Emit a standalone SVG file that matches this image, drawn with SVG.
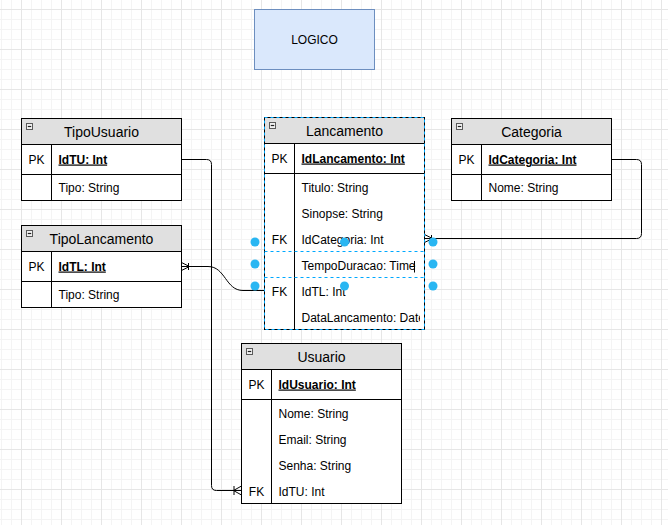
<svg xmlns="http://www.w3.org/2000/svg" width="668" height="525" viewBox="0 0 668 525">
<style>
text{font-family:"Liberation Sans",Arial,Helvetica,sans-serif;fill:#000}
.hd{fill:#e0e0e0;stroke:#000;stroke-width:1}
.bd{fill:#fff;stroke:#000;stroke-width:1}
.ln{stroke:#000;stroke-width:1;fill:none}
.ht{font-size:14px;text-anchor:middle}
.k{font-size:12px;text-anchor:middle}
.f{font-size:12px}
.pk{font-size:12px;font-weight:bold;text-decoration:underline}
.ic{fill:#f0f0f0;stroke:#5a5a5a;stroke-width:1}
.im{stroke:#222;stroke-width:1.2}
.cn{stroke:#000;stroke-width:1;fill:none}
.sel{stroke:#00a8ff;stroke-width:1;fill:none;stroke-dasharray:3 3}
.dot{fill:#29b6f2}
</style>
<defs>
<pattern id="grid" x="21" y="9" width="40" height="40" patternUnits="userSpaceOnUse">
<rect width="40" height="40" fill="#fff"/>
<rect x="10" y="0" width="1" height="40" fill="#f4f4f4"/>
<rect x="20" y="0" width="1" height="40" fill="#f4f4f4"/>
<rect x="30" y="0" width="1" height="40" fill="#f4f4f4"/>
<rect x="0" y="10" width="40" height="1" fill="#f4f4f4"/>
<rect x="0" y="20" width="40" height="1" fill="#f4f4f4"/>
<rect x="0" y="30" width="40" height="1" fill="#f4f4f4"/>
<rect x="0" y="0" width="1" height="40" fill="#e6e6e6"/>
<rect x="0" y="0" width="40" height="1" fill="#e6e6e6"/>
</pattern>
<clipPath id="clipL"><rect x="295" y="118" width="125" height="212"/></clipPath>
</defs>
<rect width="668" height="525" fill="url(#grid)"/>

<g id="logico">
<rect x="254.5" y="9.5" width="120" height="60" fill="#dae8fc" stroke="#6c8ebf"/>
<text x="314.5" y="43.5" class="k">LOGICO</text>
</g>

<g id="connectors">
<path class="cn" d="M181.5 159.5 H206.5 Q211.5 159.5 211.5 164.5 V485.5 Q211.5 490.5 216.5 490.5 H241.5"/>
<path class="cn" d="M233.5 490.5 L241.5 486 M233.5 490.5 L241.5 495 M234 486 V495"/>
<path class="cn" d="M264.5 290.5 H243 C225.5 290.5 225.5 266.5 208 266.5 H181.5"/>
<path class="cn" d="M189.5 266.5 L181.5 262.5 M189.5 266.5 L181.5 270.5 M188.5 263 V270"/>
<path class="cn" d="M611.5 159.5 H636.5 Q641.5 159.5 641.5 164.5 V233.5 Q641.5 238.5 636.5 238.5 H424.5"/>
<path class="cn" d="M432.5 238.5 L424.5 234.5 M432.5 238.5 L424.5 242.5 M431.5 235 V242"/>
</g>

<g id="tipousuario">
<rect class="hd" x="21.5" y="118.5" width="160" height="26"/>
<rect class="bd" x="21.5" y="144.5" width="160" height="56"/>
<path class="ln" d="M21.5 174.5 H181.5 M51.5 144.5 V200.5"/>
<rect class="ic" x="26.5" y="123.5" width="6" height="6"/><path class="im" d="M27.8 126.5 H31.2"/>
<text class="ht" x="101.5" y="136.5">TipoUsuario</text>
<text class="k" x="36.5" y="163.5">PK</text>
<text class="pk" x="58.5" y="163.5">IdTU: Int</text>
<text class="f" x="58.5" y="192">Tipo: String</text>
</g>

<g id="tipolancamento">
<rect class="hd" x="21.5" y="225.5" width="160" height="26"/>
<rect class="bd" x="21.5" y="251.5" width="160" height="56"/>
<path class="ln" d="M21.5 281.5 H181.5 M51.5 251.5 V307.5"/>
<rect class="ic" x="26.5" y="230.5" width="6" height="6"/><path class="im" d="M27.8 233.5 H31.2"/>
<text class="ht" x="101.5" y="243.5">TipoLancamento</text>
<text class="k" x="36.5" y="270.5">PK</text>
<text class="pk" x="58.5" y="270.5">IdTL: Int</text>
<text class="f" x="58.5" y="299">Tipo: String</text>
</g>

<g id="categoria">
<rect class="hd" x="451.5" y="118.5" width="160" height="26"/>
<rect class="bd" x="451.5" y="144.5" width="160" height="56"/>
<path class="ln" d="M451.5 174.5 H611.5 M481.5 144.5 V200.5"/>
<rect class="ic" x="456.5" y="123.5" width="6" height="6"/><path class="im" d="M457.8 126.5 H461.2"/>
<text class="ht" x="531.5" y="136.5">Categoria</text>
<text class="k" x="466.5" y="163.5">PK</text>
<text class="pk" x="488.5" y="163.5">IdCategoria: Int</text>
<text class="f" x="488.5" y="192">Nome: String</text>
</g>

<g id="lancamento">
<rect class="hd" x="264.5" y="117.5" width="160" height="26"/>
<rect class="bd" x="264.5" y="143.5" width="160" height="186"/>
<path class="ln" d="M264.5 173.5 H424.5 M294.5 143.5 V329.5"/>
<rect class="ic" x="269.5" y="122.5" width="6" height="6"/><path class="im" d="M270.8 125.5 H274.2"/>
<text class="ht" x="344.5" y="135.5">Lancamento</text>
<text class="k" x="279.5" y="162.5">PK</text>
<text class="pk" x="301.5" y="162.5">IdLancamento: Int</text>
<g clip-path="url(#clipL)">
<text class="f" x="301.5" y="191.5">Titulo: String</text>
<text class="f" x="301.5" y="217.5">Sinopse: String</text>
<text class="f" x="301.5" y="243.5">IdCategoria: Int</text>
<text class="f" x="301.5" y="269.5">TempoDuracao: Time</text>
<text class="f" x="301.5" y="295.5">IdTL: Int</text>
<text class="f" x="301.5" y="321.5">DataLancamento: Date</text>
</g>
<text class="k" x="279.5" y="243.5">FK</text>
<text class="k" x="279.5" y="295.5">FK</text>
</g>

<g id="usuario">
<rect class="hd" x="241.5" y="343.5" width="160" height="26"/>
<rect class="bd" x="241.5" y="369.5" width="160" height="134"/>
<path class="ln" d="M241.5 399.5 H401.5 M271.5 369.5 V503.5"/>
<rect class="ic" x="246.5" y="348.5" width="6" height="6"/><path class="im" d="M247.8 351.5 H251.2"/>
<text class="ht" x="321.5" y="361.5">Usuario</text>
<text class="k" x="256.5" y="388.5">PK</text>
<text class="pk" x="278.5" y="388.5">IdUsuario: Int</text>
<text class="f" x="278.5" y="417.5">Nome: String</text>
<text class="f" x="278.5" y="443.5">Email: String</text>
<text class="f" x="278.5" y="469.5">Senha: String</text>
<text class="f" x="278.5" y="495.5">IdTU: Int</text>
<text class="k" x="256.5" y="495.5">FK</text>
</g>

<g id="selection">
<rect class="sel" x="264.5" y="117.5" width="160" height="212"/>
<path class="sel" d="M264.5 251.5 H424.5 M264.5 277.5 H424.5"/>
<path d="M414.5 261 V272.5" stroke="#000" stroke-width="1"/>
<circle class="dot" cx="255" cy="242" r="4.5"/>
<circle class="dot" cx="344.5" cy="242" r="4.5"/>
<circle class="dot" cx="433" cy="242" r="4.5"/>
<circle class="dot" cx="255" cy="264" r="4.5"/>
<circle class="dot" cx="433" cy="264" r="4.5"/>
<circle class="dot" cx="255" cy="286" r="4.5"/>
<circle class="dot" cx="344.5" cy="286" r="4.5"/>
<circle class="dot" cx="433" cy="286" r="4.5"/>
</g>
</svg>
